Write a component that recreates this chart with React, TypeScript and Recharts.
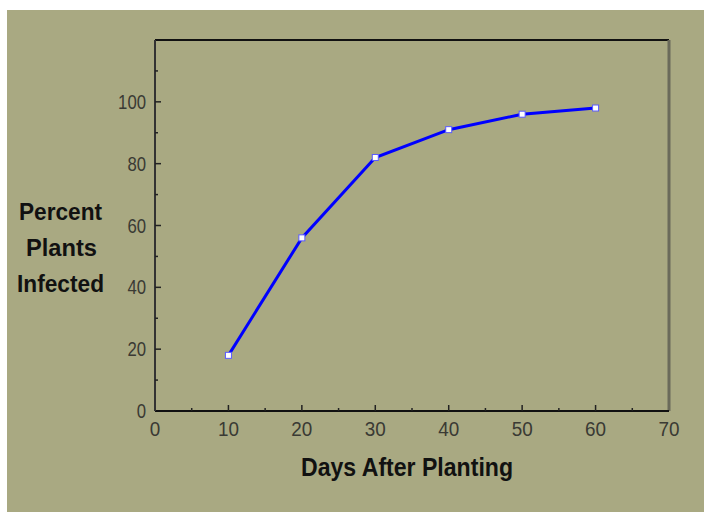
import { Line, LineChart, ReferenceLine, XAxis, YAxis } from "recharts";

const days = [10, 20, 30, 40, 50, 60];
const infected = [18, 56, 82, 91, 96, 98];
const xTicks = [0, 5, 10, 15, 20, 25, 30, 35, 40, 45, 50, 55, 60, 65, 70];
const yTicks = [0, 10, 20, 30, 40, 50, 60, 70, 80, 90, 100, 110];

const data = days.map((d, i) => ({ day: d, pct: infected[i] }));

const BG = "#a9a982";
const FONT = "'Liberation Sans', Arial, sans-serif";

function YTick(props: any) {
  const { x, y, payload } = props;
  const v = payload.value as number;
  const major = v % 20 === 0;
  return (
    <g>
      {v > 0 && <line x1={x} y1={y} x2={x + (major ? 6 : 3)} y2={y} stroke="#222" strokeWidth={1.5} />}
      {major && v <= 100 && (
        <text x={x - 9} y={y + 7} textAnchor="end" fontSize={20} fill="#3a3a34" fontFamily={FONT}
          textLength={String(v).length * 9.3} lengthAdjust="spacingAndGlyphs">
          {v}
        </text>
      )}
    </g>
  );
}

function XTick(props: any) {
  const { x, y, payload } = props;
  const v = payload.value as number;
  const major = v % 10 === 0;
  return (
    <g>
      {v > 0 && v < 70 && <line x1={x} y1={y} x2={x} y2={y - (major ? 6 : 3)} stroke="#222" strokeWidth={1.5} />}
      {major && (
        <text x={x} y={y + 25} textAnchor="middle" fontSize={20} fill="#3a3a34" fontFamily={FONT}
          textLength={String(v).length * 10.5} lengthAdjust="spacingAndGlyphs">
          {v}
        </text>
      )}
    </g>
  );
}

function SquareDot(props: any) {
  const { cx, cy } = props;
  return <rect x={cx - 3} y={cy - 3} width={6} height={6} fill="#ffffff" stroke="#5a5aff" strokeWidth={1} />;
}

export default function App() {
  return (
    <div style={{ position: "absolute", left: 0, top: 0, width: 704, height: 512, background: "#fff" }}>
      <div style={{ position: "absolute", left: 7, top: 10, width: 697, height: 502, background: BG }}>
        <LineChart width={697} height={502} data={data} margin={{ top: 30, right: 35, left: 98, bottom: 71 }}>
          <XAxis
            dataKey="day"
            type="number"
            domain={[0, 70]}
            ticks={xTicks}
            interval={0}
            tickSize={0}
            tickMargin={0}
            tickLine={false}
            tick={<XTick />}
            height={30}
            axisLine={{ stroke: "#111", strokeWidth: 2 }}
          />
          <YAxis
            type="number"
            domain={[0, 120]}
            ticks={yTicks}
            interval={0}
            tickSize={0}
            tickMargin={0}
            tickLine={false}
            tick={<YTick />}
            width={50}
            axisLine={{ stroke: "#333", strokeWidth: 2 }}
          />
          <ReferenceLine y={120} stroke="#111" strokeWidth={2} />
          <ReferenceLine x={70} stroke="#6a6a5a" strokeWidth={3} />
          <Line
            dataKey="pct"
            type="linear"
            stroke="#0000ff"
            strokeWidth={3}
            dot={<SquareDot />}
            activeDot={false}
            isAnimationActive={false}
          />
        </LineChart>
        <svg width={697} height={502} style={{ position: "absolute", left: 0, top: 0, pointerEvents: "none" }}>
          <g fontFamily={FONT} fontWeight="bold" fill="#111" textAnchor="middle">
            <text x={53.5} y={210} fontSize={23} textLength={83} lengthAdjust="spacingAndGlyphs">Percent</text>
            <text x={54.5} y={246} fontSize={23} textLength={71} lengthAdjust="spacingAndGlyphs">Plants</text>
            <text x={53.5} y={282} fontSize={23} textLength={87} lengthAdjust="spacingAndGlyphs">Infected</text>
            <text x={400} y={466} fontSize={26} textLength={212} lengthAdjust="spacingAndGlyphs">Days After Planting</text>
          </g>
        </svg>
      </div>
    </div>
  );
}
